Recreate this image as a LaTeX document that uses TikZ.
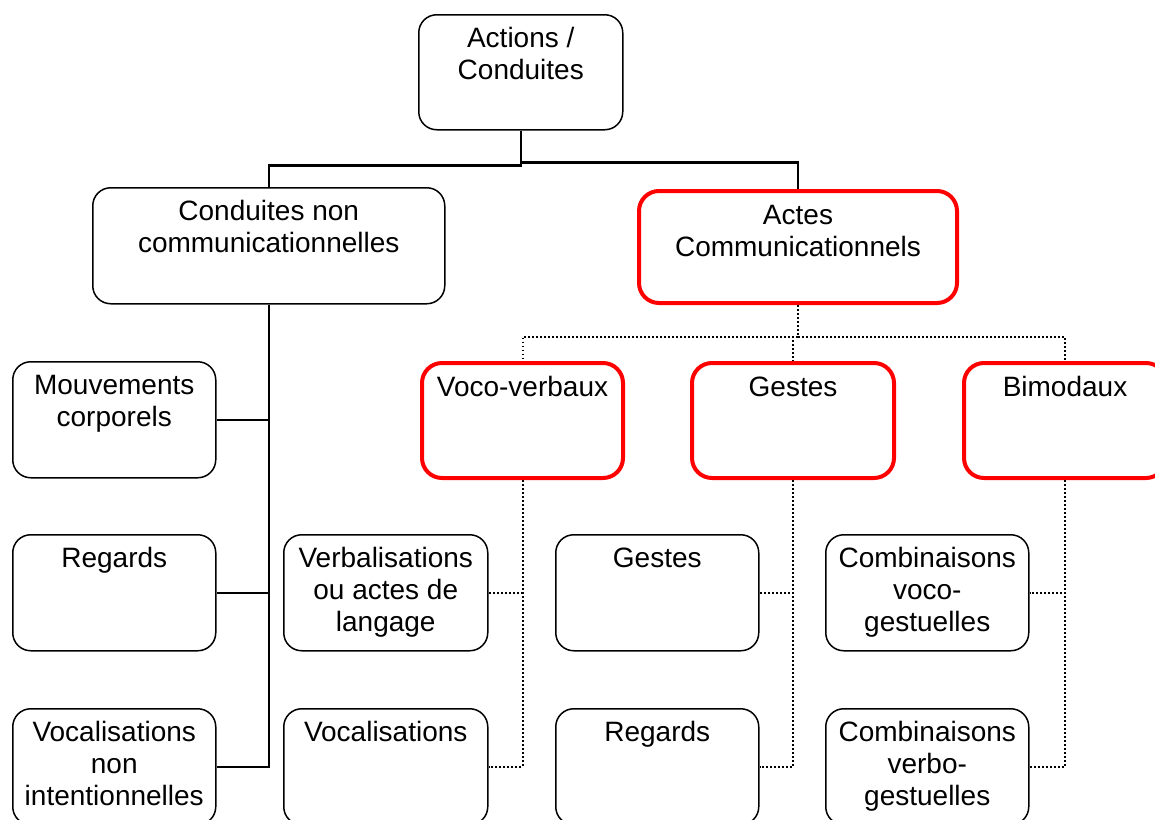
\documentclass[tikz,border=0pt]{standalone}
\usepackage{fontspec}
\setmainfont{Liberation Sans}
\newcommand{\boxcontent}[3]{\parbox[c][#2][t]{#1}{\centering\rule{0pt}{33pt}#3}}
\begin{document}
\begin{tikzpicture}[x=1pt,y=-1pt,
  box/.style={draw=black, line width=1.5pt, rounded corners=18pt, inner sep=0pt,
    anchor=north west, font=\fontsize{28}{32}\selectfont},
  redbox/.style={box, draw=red, line width=4pt, rounded corners=20pt},
  solidlink/.style={draw=black, line width=2.5pt},
  dotlink/.style={draw=black, line width=2pt, dash pattern=on 1.8pt off 2.2pt}
]
\useasboundingbox (0,0) rectangle (1155,819);
\clip (0,0) rectangle (1155,819);
% top level
\node[box] (actions) at (418,14) {\boxcontent{204pt}{115pt}{Actions /\\Conduites}};
\node[box] (cnc) at (92,187) {\boxcontent{352pt}{116pt}{Conduites non\\communicationnelles}};
\node[redbox] (actes) at (637,189) {\boxcontent{318pt}{112pt}{Actes\\Communicationnels}};
% left column
\node[box] (mouv) at (12,361) {\boxcontent{203pt}{116pt}{Mouvements\\corporels}};
\node[box] (regl) at (12,534) {\boxcontent{203pt}{116pt}{Regards}};
\node[box] (vni) at (12,708) {\boxcontent{203pt}{116pt}{Vocalisations\\non\\intentionnelles}};
% red categories
\node[redbox] (voco) at (420,361) {\boxcontent{201pt}{115pt}{Voco-verbaux}};
\node[redbox] (gest) at (690,361) {\boxcontent{202pt}{115pt}{Gestes}};
\node[redbox] (bim) at (962,361) {\boxcontent{202pt}{115pt}{Bimodaux}};
% sub boxes
\node[box] (verb) at (283,534) {\boxcontent{204pt}{116pt}{Verbalisations\\ou actes de\\langage}};
\node[box] (voc) at (283,708) {\boxcontent{204pt}{116pt}{Vocalisations}};
\node[box] (gsub) at (555,534) {\boxcontent{203pt}{116pt}{Gestes}};
\node[box] (rsub) at (555,708) {\boxcontent{203pt}{116pt}{Regards}};
\node[box] (cvoco) at (825,534) {\boxcontent{203pt}{116pt}{Combinaisons\\voco-\\gestuelles}};
\node[box] (cverbo) at (825,708) {\boxcontent{203pt}{116pt}{Combinaisons\\verbo-\\gestuelles}};
% solid connectors
\draw[solidlink] (actions.south) -- ++(0,35) -| (cnc.north);
\draw[solidlink] (actions.south) -- ++(0,32) -| (actes.north);
\draw[solidlink] (cnc.south) |- (mouv.east);
\draw[solidlink] (cnc.south) |- (regl.east);
\draw[solidlink] (cnc.south) |- (vni.east);
% dotted connectors
\draw[dotlink] (actes.south) -- ++(0,32) -| (voco.north);
\draw[dotlink] (actes.south) -- ++(0,32) -| (gest.north);
\draw[dotlink] (actes.south) -- ++(0,32) -| (bim.north);
\draw[dotlink] (voco.south) |- (verb.east);
\draw[dotlink] (voco.south) |- (voc.east);
\draw[dotlink] (gest.south) |- (gsub.east);
\draw[dotlink] (gest.south) |- (rsub.east);
\draw[dotlink] (bim.south) |- (cvoco.east);
\draw[dotlink] (bim.south) |- (cverbo.east);
\end{tikzpicture}
\end{document}
